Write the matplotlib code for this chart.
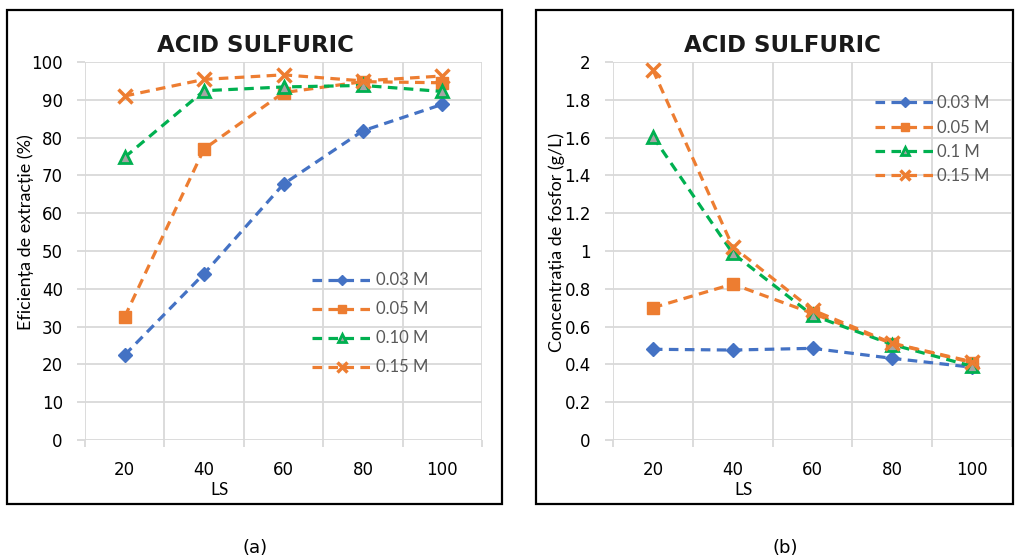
import numpy as np
import matplotlib
matplotlib.use("Agg")
import matplotlib.pyplot as plt
from matplotlib.patches import Rectangle

# date
ls_values = ["20", "40", "60", "80", "100"]

eff_003 = [22.5, 44.0, 67.7, 81.8, 88.8]
eff_005 = [32.6, 77.0, 91.9, 94.8, 94.5]
eff_010 = [74.8, 92.4, 93.4, 93.8, 92.2]
eff_015 = [91.0, 95.4, 96.6, 95.0, 96.3]
labels_a = ["0.03 M", "0.05 M", "0.10 M", "0.15 M"]

conc_003 = [0.48, 0.476, 0.485, 0.432, 0.385]
conc_005 = [0.70, 0.825, 0.67, 0.51, 0.41]
conc_010 = [1.605, 0.988, 0.66, 0.505, 0.39]
conc_015 = [1.958, 1.023, 0.688, 0.512, 0.414]
labels_b = ["0.03 M", "0.05 M", "0.1 M", "0.15 M"]

BLUE = "#4472C4"
ORANGE = "#ED7D31"
GREEN = "#00B050"
GRID = "#D9D9D9"
W, H = 1016, 560
SANS = ["Lato", "DejaVu Sans"]

styles = [
    dict(color=BLUE, marker="D", markersize=7, markerfacecolor=BLUE, markeredgecolor=BLUE),
    dict(color=ORANGE, marker="s", markersize=8, markerfacecolor=ORANGE, markeredgecolor=ORANGE),
    dict(color=GREEN, marker="^", markersize=9, markerfacecolor="#A5A5A5", markeredgecolor=GREEN, markeredgewidth=2),
    dict(color=ORANGE, marker="x", markersize=10, markeredgewidth=2.5),
]

fig = plt.figure(figsize=(W / 100, H / 100), dpi=100)


def px_axes(x0, y0, x1, y1):
    return fig.add_axes([x0 / W, 1 - y1 / H, (x1 - x0) / W, (y1 - y0) / H])


def setup(ax, ymax, ystep, yfmt):
    x = np.arange(len(ls_values))
    ax.set_xlim(-0.5, len(ls_values) - 0.5)
    ax.set_ylim(0, ymax)
    ax.set_xticks(x)
    ax.set_xticklabels(ls_values)
    ax.set_xticks(np.arange(-0.5, len(ls_values)), minor=True)
    yt = np.arange(0, ymax + ystep / 2, ystep)
    ax.set_yticks(yt)
    ax.set_yticklabels([yfmt(v) for v in yt])
    for s in ax.spines.values():
        s.set_visible(False)
    ax.grid(axis="y", color=GRID, linewidth=1.3)
    ax.grid(axis="x", which="minor", color=GRID, linewidth=1.3)
    ax.tick_params(axis="x", which="major", length=0, pad=15, labelsize=12)
    ax.tick_params(axis="x", which="minor", length=5, width=1.3, color=GRID)
    ax.tick_params(axis="y", length=6, width=1.3, color=GRID, pad=10, labelsize=12)
    ax.set_axisbelow(True)


def plot_series(ax, series, labels):
    x = np.arange(len(ls_values))
    for vals, lab, st in zip(series, labels, styles):
        ax.plot(x, vals, linestyle=(0, (3, 2)), linewidth=2.3, label=lab, **st)


# cadre
fig.patches.append(Rectangle((7 / W, 1 - 504 / H), 495 / W, 494 / H, transform=fig.transFigure,
                             fill=False, edgecolor="black", linewidth=1.6))
fig.patches.append(Rectangle((536 / W, 1 - 504 / H), 477 / W, 494 / H, transform=fig.transFigure,
                             fill=False, edgecolor="black", linewidth=1.6))

# (a)
ax1 = px_axes(85, 62, 482, 440)
setup(ax1, 100, 10, lambda v: f"{v:.0f}")
plot_series(ax1, [eff_003, eff_005, eff_010, eff_015], labels_a)
ax1.legend(loc="upper left", bbox_to_anchor=(304 / W, 1 - 264 / H), bbox_transform=fig.transFigure,
           frameon=False, borderpad=0, handlelength=3.6, handletextpad=0.25, labelspacing=0.78,
           markerscale=0.7, labelcolor="#595959", prop={"family": SANS, "size": 12})
fig.text(255 / W, 1 - 45 / H, "ACID SULFURIC", ha="center", va="center", fontsize=16.5,
         fontweight="bold", color="#1a1a1a")
fig.text(26 / W, 1 - 232 / H, "Eficiența de extracție (%)", rotation=90, ha="center", va="center",
         family=SANS, fontsize=13)
fig.text(219 / W, 1 - 490 / H, "LS", ha="center", va="center", family=SANS, fontsize=12.5)
fig.text(255 / W, 1 - 548 / H, "(a)", ha="center", va="center", fontsize=13)

# (b)
ax2 = px_axes(613, 62, 1012, 440)
setup(ax2, 2, 0.2, lambda v: f"{v:.1f}".rstrip("0").rstrip(".") if v != 0 else "0")
plot_series(ax2, [conc_003, conc_005, conc_010, conc_015], labels_b)
ax2.legend(loc="upper left", bbox_to_anchor=(867 / W, 1 - 87 / H), bbox_transform=fig.transFigure,
           frameon=False, borderpad=0, handlelength=3.5, handletextpad=0.2, labelspacing=0.5,
           markerscale=0.7, labelcolor="#595959", prop={"family": SANS, "size": 12})
fig.text(782 / W, 1 - 45 / H, "ACID SULFURIC", ha="center", va="center", fontsize=16.5,
         fontweight="bold", color="#1a1a1a")
fig.text(557 / W, 1 - 242 / H, "Concentrația de fosfor (g/L)", rotation=90, ha="center", va="center",
         family=SANS, fontsize=13)
fig.text(744 / W, 1 - 490 / H, "LS", ha="center", va="center", family=SANS, fontsize=12.5)
fig.text(785 / W, 1 - 548 / H, "(b)", ha="center", va="center", fontsize=13)

fig.savefig("out.png", dpi=100)
